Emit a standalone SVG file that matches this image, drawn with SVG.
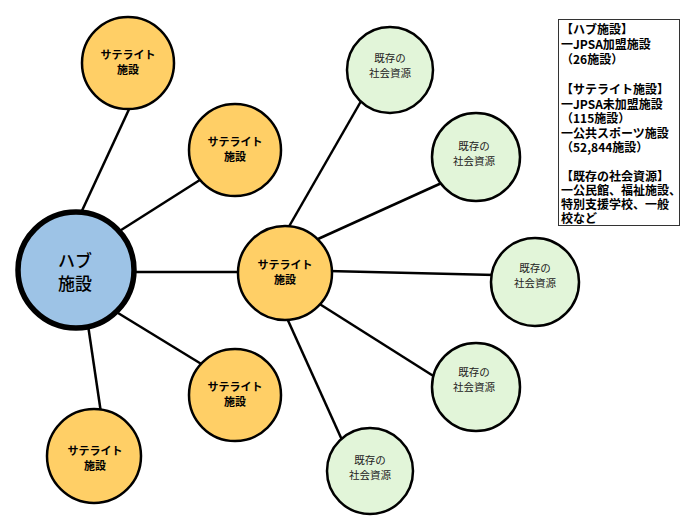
<svg xmlns="http://www.w3.org/2000/svg" width="700" height="528" viewBox="0 0 700 528">
<style>
.edge{stroke:#000;stroke-width:2.5;fill:none}
.hub{fill:#9DC3E6;stroke:#000;stroke-width:5.5}
.sat{fill:#FFCF66;stroke:#000;stroke-width:2.5}
.res{fill:#E2F5D9;stroke:#000;stroke-width:2.5}
text{font-family:"Noto Sans CJK JP","Noto Sans CJK SC",sans-serif;text-anchor:middle;fill:#000}
.th{font-size:17px;font-weight:500}
.ts{font-size:11px;font-weight:bold}
.tr{font-size:10.5px;font-weight:normal;fill:#222}
.lg{font-size:12px;font-weight:bold;text-anchor:start}
</style>
<rect width="700" height="528" fill="#fff"/>
<g id="connectors">
<line class="edge" x1="80" y1="215" x2="131" y2="105"/>
<line class="edge" x1="118" y1="232" x2="203" y2="178"/>
<line class="edge" x1="130" y1="272" x2="242" y2="272"/>
<line class="edge" x1="118" y1="313" x2="203" y2="365"/>
<line class="edge" x1="88" y1="325" x2="101" y2="413"/>
<line class="edge" x1="287" y1="230" x2="364" y2="96"/>
<line class="edge" x1="318" y1="239" x2="446" y2="181"/>
<line class="edge" x1="328" y1="271" x2="495" y2="275"/>
<line class="edge" x1="318" y1="303" x2="435" y2="377"/>
<line class="edge" x1="286" y1="316" x2="342" y2="440"/>
</g>
<g id="hub">
<circle class="hub" cx="76" cy="270" r="58"/>
<text class="th" x="75" y="266.5">ハブ</text>
<text class="th" x="75" y="289.5">施設</text>
</g>
<g id="sat1">
<circle class="sat" cx="128" cy="63" r="46"/>
<text class="ts" x="128" y="59">サテライト</text>
<text class="ts" x="128" y="74">施設</text>
</g>
<g id="sat2">
<circle class="sat" cx="235" cy="150" r="46"/>
<text class="ts" x="235" y="146">サテライト</text>
<text class="ts" x="235" y="161">施設</text>
</g>
<g id="sat-center">
<circle class="sat" cx="285" cy="273" r="47"/>
<text class="ts" x="285" y="269">サテライト</text>
<text class="ts" x="285" y="284">施設</text>
</g>
<g id="sat3">
<circle class="sat" cx="235" cy="395" r="46"/>
<text class="ts" x="235" y="391">サテライト</text>
<text class="ts" x="235" y="406">施設</text>
</g>
<g id="sat4">
<circle class="sat" cx="94" cy="456" r="47"/>
<text class="ts" x="95" y="455">サテライト</text>
<text class="ts" x="95" y="470">施設</text>
</g>
<g id="res1">
<circle class="res" cx="390" cy="70" r="43"/>
<text class="tr" x="390" y="62">既存の</text>
<text class="tr" x="390" y="77">社会資源</text>
</g>
<g id="res2">
<circle class="res" cx="476" cy="157" r="44"/>
<text class="tr" x="474" y="150">既存の</text>
<text class="tr" x="474" y="165">社会資源</text>
</g>
<g id="res3">
<circle class="res" cx="535" cy="282" r="44"/>
<text class="tr" x="535" y="272">既存の</text>
<text class="tr" x="535" y="287">社会資源</text>
</g>
<g id="res4">
<circle class="res" cx="476" cy="387" r="44"/>
<text class="tr" x="474" y="376">既存の</text>
<text class="tr" x="474" y="391">社会資源</text>
</g>
<g id="res5">
<circle class="res" cx="370" cy="471" r="43"/>
<text class="tr" x="370" y="464">既存の</text>
<text class="tr" x="370" y="479">社会資源</text>
</g>
<g id="legend">
<rect x="558.5" y="19.5" width="121" height="206" fill="#fff" stroke="#333" stroke-width="1"/>
<text class="lg" x="561" y="33.5">【ハブ施設】</text>
<text class="lg" x="561" y="48.5">一JPSA加盟施設</text>
<text class="lg" x="561" y="63.5">（26施設）</text>
<text class="lg" x="561" y="93.5">【サテライト施設】</text>
<text class="lg" x="561" y="108.5">一JPSA未加盟施設</text>
<text class="lg" x="561" y="123">（115施設）</text>
<text class="lg" x="561" y="137.5">一公共スポーツ施設</text>
<text class="lg" x="561" y="151.5">（52,844施設）</text>
<text class="lg" x="561" y="180.5">【既存の社会資源】</text>
<text class="lg" x="561" y="195">一公民館、福祉施設、</text>
<text class="lg" x="561" y="209">特別支援学校、一般</text>
<text class="lg" x="561" y="223">校など</text>
</g>
</svg>
